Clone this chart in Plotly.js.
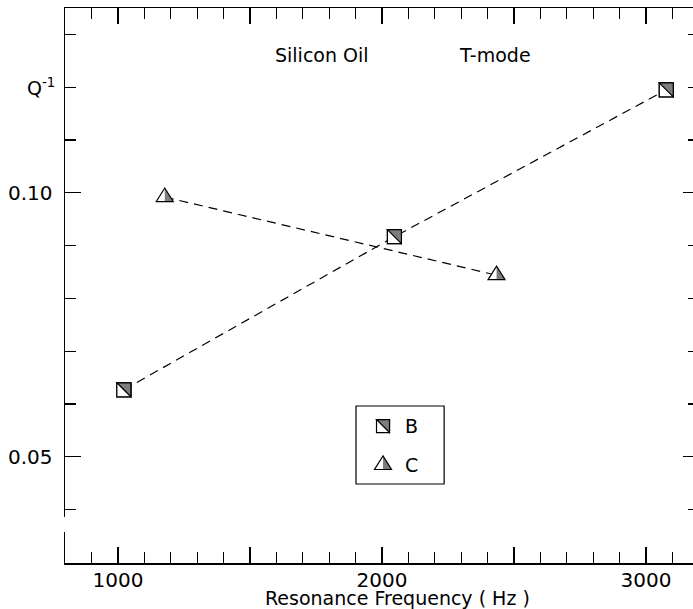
<!DOCTYPE html>
<html><head><meta charset="utf-8">
<script src="https://cdn.plot.ly/plotly-3.0.1.min.js"></script>
<style>html,body{margin:0;padding:0;overflow:hidden;background:#fff}#chart{width:700px;height:609px}</style>
</head><body><div id="chart"></div>
<script>
// ---- data ----
const seriesNames = ['B', 'C'];
const bFreq = [1022, 2047, 3077];
const bQ = [0.0627, 0.0917, 0.1195];
const cFreq = [1177, 2434];
const cQ = [0.0992, 0.0844];
const xLabelVals = [1000, 2000, 3000];
const xLabelText = ['1000', '2000', '3000'];
const xHalfVals = [1500, 2500];
const yTickVals = [0.05, 0.10];
const yTickText = ['0.05', '0.10'];
const titleText = 'Silicon Oil';
const modeText = 'T-mode';
const xTitle = 'Resonance Frequency ( Hz )';
const yLabel = 'Q<sup>-1</sup>';
const yLabelAt = 0.12;

// ---- styling ----
const FONT = 'DejaVu Sans, Liberation Sans, Arial, sans-serif';
const GRAY = '#7d7d7d';
const LW = 1.2;
const XRANGE = [799, 3201];

function squareShapes(x, y, xref, yref, h) {
  const base = {type: 'path', xref: xref, yref: yref, xsizemode: 'pixel', ysizemode: 'pixel', xanchor: x, yanchor: y};
  return [
    Object.assign({}, base, {path: `M${-h},${-h} H${h} V${h} H${-h} Z`, fillcolor: 'white', line: {color: 'black', width: LW}}),
    Object.assign({}, base, {path: `M${-h},${h} H${h} V${-h} Z`, fillcolor: GRAY, line: {color: 'black', width: LW}})
  ];
}
function triShapes(x, y, xref, yref, w, H) {
  const top = 2 * H / 3, bot = -H / 3;
  const base = {type: 'path', xref: xref, yref: yref, xsizemode: 'pixel', ysizemode: 'pixel', xanchor: x, yanchor: y};
  const full = `M${-w},${bot} L${w},${bot} L0,${top} Z`;
  return [
    Object.assign({}, base, {path: full, fillcolor: 'white', line: {color: 'black', width: 0}}),
    Object.assign({}, base, {path: `M0,${top} L${w},${bot} L0,${bot} Z`, fillcolor: GRAY, line: {color: GRAY, width: 0}}),
    Object.assign({}, base, {path: full, fillcolor: 'rgba(0,0,0,0)', line: {color: 'black', width: LW}})
  ];
}

const traces = [
  {x: bFreq, y: bQ, name: seriesNames[0], mode: 'lines+markers', type: 'scatter',
   line: {color: 'black', width: LW, dash: '9px,6px'},
   marker: {symbol: 'square', size: 14, color: 'white', line: {color: 'black', width: LW}}},
  {x: cFreq, y: cQ, name: seriesNames[1], mode: 'lines+markers', type: 'scatter', xaxis: 'x2',
   line: {color: 'black', width: LW, dash: '9px,6px'},
   marker: {symbol: 'triangle-up', size: 13, color: 'white', line: {color: 'black', width: LW}}}
];

let shapes = [];
bFreq.forEach((f, i) => { shapes = shapes.concat(squareShapes(f, bQ[i], 'x', 'y', 7)); });
cFreq.forEach((f, i) => { shapes = shapes.concat(triShapes(f, cQ[i], 'x', 'y', 8.5, 13.5)); });

// legend box (drawn manually)
shapes.push({type: 'rect', xref: 'paper', yref: 'paper', x0: 0.459, x1: 0.598, y0: 0.1423, y1: 0.2829,
             line: {color: 'black', width: LW}, fillcolor: 'rgba(0,0,0,0)'});
shapes = shapes.concat(squareShapes(0.5016, 0.2468, 'paper', 'paper', 6.5));
shapes = shapes.concat(triShapes(0.5016, 0.1766, 'paper', 'paper', 8.5, 13.5));
// small break in the left axis line
shapes.push({type: 'line', xref: 'paper', yref: 'paper', x0: 0, x1: 0, y0: 0.056, y1: 0.083,
             line: {color: 'white', width: 4}});

const tf = (s) => ({family: FONT, size: s, color: 'black'});
const annotations = [
  {text: titleText, xref: 'paper', yref: 'paper', x: 0.406, y: 0.915, xanchor: 'center', yanchor: 'middle', showarrow: false, font: tf(19)},
  {text: modeText, xref: 'paper', yref: 'paper', x: 0.678, y: 0.915, xanchor: 'center', yanchor: 'middle', showarrow: false, font: tf(19)},
  {text: yLabel, xref: 'paper', yref: 'y', x: -0.0126, y: yLabelAt, xanchor: 'right', yanchor: 'middle', showarrow: false, font: tf(19)},
  {text: xTitle, xref: 'paper', yref: 'paper', x: 0.525, y: -0.0625, xanchor: 'center', yanchor: 'middle', showarrow: false, font: tf(19)},
  {text: seriesNames[0], xref: 'paper', yref: 'paper', x: 0.533, y: 0.2468, xanchor: 'left', yanchor: 'middle', showarrow: false, font: tf(19)},
  {text: seriesNames[1], xref: 'paper', yref: 'paper', x: 0.533, y: 0.1766, xanchor: 'left', yanchor: 'middle', showarrow: false, font: tf(19)}
];

const axisCommon = {
  showline: true, linecolor: 'black', linewidth: 1.5, mirror: 'ticks',
  ticks: 'inside', ticklen: 16, tickwidth: LW, tickcolor: 'black',
  showgrid: false, zeroline: false,
  tickfont: tf(20)
};

const layout = {
  width: 700, height: 609,
  margin: {l: 65, r: 1, t: 8, b: 46},
  paper_bgcolor: 'white', plot_bgcolor: 'white',
  showlegend: false,
  xaxis: Object.assign({}, axisCommon, {
    range: XRANGE, tickmode: 'array', tickvals: xLabelVals, ticktext: xLabelText, ticklabelstandoff: -2,
    minor: {tickmode: 'linear', tick0: 0, dtick: 100, ticks: 'inside', ticklen: 11, tickwidth: LW, tickcolor: 'black', showgrid: false}
  }),
  xaxis2: {
    overlaying: 'x', anchor: 'y', side: 'bottom', range: XRANGE,
    tickmode: 'array', tickvals: xHalfVals, showticklabels: false,
    ticks: 'inside', ticklen: 16, tickwidth: LW, tickcolor: 'black', mirror: 'ticks',
    showline: false, showgrid: false, zeroline: false
  },
  yaxis: Object.assign({}, axisCommon, {
    range: [0.0299, 0.135], tickmode: 'array', tickvals: yTickVals, ticktext: yTickText, ticklabelstandoff: 7,
    minor: {tickmode: 'linear', tick0: 0, dtick: 0.01, ticks: 'inside', ticklen: 11, tickwidth: LW, tickcolor: 'black', showgrid: false}
  }),
  shapes: shapes,
  annotations: annotations
};

Plotly.newPlot('chart', traces, layout, {displayModeBar: false, staticPlot: true});
</script></body></html>
